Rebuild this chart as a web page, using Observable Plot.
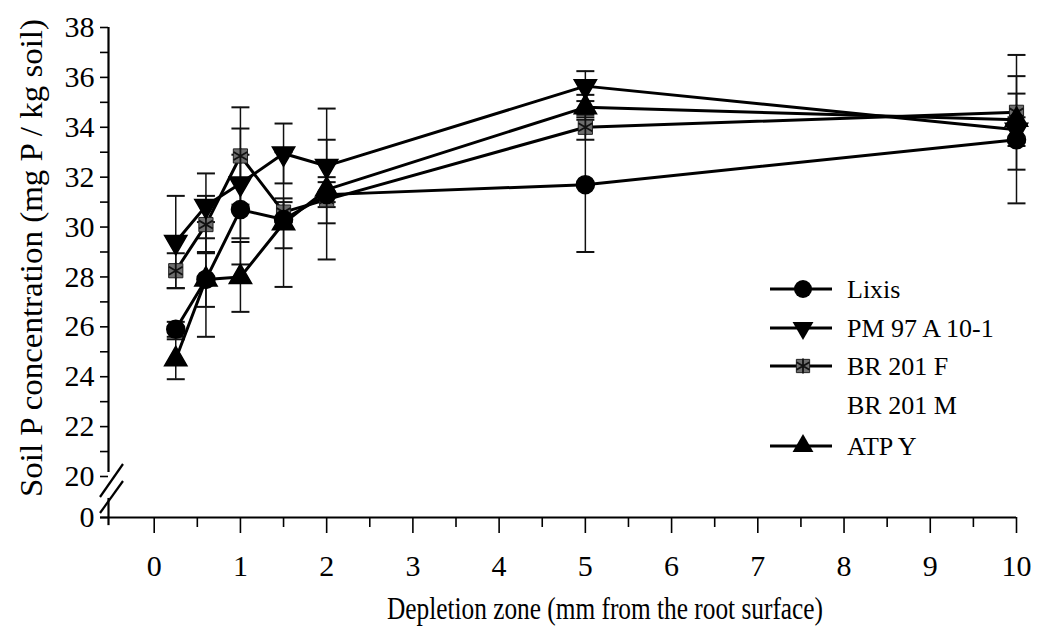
<!DOCTYPE html>
<html><head><meta charset="utf-8">
<script src="https://cdn.jsdelivr.net/npm/d3@7"></script>
<script src="https://cdn.jsdelivr.net/npm/@observablehq/plot@0.6"></script>
<style>body{margin:0;background:#fff} #chart{width:1045px;height:628px}</style>
</head><body><div id="chart"></div>
<script>
// ---- data ----
const depth = [0.25, 0.6, 1, 1.5, 2, 5, 10];
const seriesNames = ["Lixis", "PM 97 A 10-1", "BR 201 F", "BR 201 M", "ATP Y"];
const lixis     = [25.9, 27.9, 30.7, 30.3, 31.3, 31.7, 33.5];
const lixisErr  = [0.3, 2.3, 2.2, 2.7, 0.5, 2.7, 2.55];
const pm97      = [29.4, 30.85, 31.75, 32.95, 32.45, 35.65, 33.9];
const pm97Err   = [1.85, 1.3, 2.2, 1.2, 2.3, 0.6, 0.5];
const br201f    = [28.25, 30.1, 32.85, 30.6, 31.1, 34.0, 34.6];
const br201fErr = [0.7, 1.15, 1.95, 0.4, 2.4, 0.5, 2.3];
const atpy      = [24.7, 27.9, 28.0, 30.15, 31.5, 34.8, 34.3];
const atpyErr   = [0.8, 1.1, 1.4, 1.0, 0.5, 0.5, 1.05];
const xTickValues = [0, 1, 2, 3, 4, 5, 6, 7, 8, 9, 10];
const xMinorTicks = [0.5, 1.5, 2.5, 3.5, 4.5, 5.5, 6.5, 7.5, 8.5, 9.5];
const yTickValues = [20, 22, 24, 26, 28, 30, 32, 34, 36, 38];
const yMinorTicks = [21, 23, 25, 27, 29, 31, 33, 35, 37];
const yZeroLabel = "0";

// ---- scale constants (axis break: the 0 tick sits just below 20) ----
const Y_ZERO = 18.356;
const X_MIN = -0.53;

const seriesDefs = [
  {name: seriesNames[0], v: lixis, e: lixisErr},
  {name: seriesNames[1], v: pm97, e: pm97Err},
  {name: seriesNames[2], v: br201f, e: br201fErr},
  {name: seriesNames[4], v: atpy, e: atpyErr}
];
const rows = [];
seriesDefs.forEach(s => depth.forEach((x, i) => rows.push({
  series: s.name, x, y: s.v[i], lo: s.v[i] - s.e[i], hi: s.v[i] + s.e[i]
})));
const of = name => rows.filter(r => r.series === name);

const cap = {draw(ctx) { ctx.moveTo(-9, 0); ctx.lineTo(9, 0); }};
const FONT = "'Liberation Serif', 'Times New Roman', serif";

const plot = Plot.plot({
  width: 1045, height: 628,
  marginLeft: 108, marginRight: 29, marginTop: 27, marginBottom: 111,
  style: {fontFamily: FONT, background: "#fff", color: "#000"},
  x: {domain: [X_MIN, 10], label: null},
  y: {domain: [Y_ZERO, 38], label: null},
  marks: [
    // axes
    Plot.axisX({ticks: xTickValues, tickSize: 16, tickPadding: 21, fontSize: 30, tickFormat: d => String(d), label: null, strokeWidth: 1.6}),
    Plot.axisX({ticks: xMinorTicks, tickSize: 10, text: null, label: null, strokeWidth: 1.6}),
    Plot.axisY({ticks: [Y_ZERO, ...yTickValues], tickSize: 8, tickPadding: 6, fontSize: 30,
      tickFormat: d => d === Y_ZERO ? yZeroLabel : String(d), label: null, strokeWidth: 1.6}),
    Plot.axisY({ticks: yMinorTicks, tickSize: 8, text: null, label: null, strokeWidth: 1.6}),
    Plot.ruleY([Y_ZERO], {x1: X_MIN - 0.093, x2: 10, stroke: "#000", strokeWidth: 2.2}),
    Plot.ruleX([X_MIN], {y1: 20.16, y2: 38, stroke: "#000", strokeWidth: 2.2}),
    Plot.ruleX([X_MIN], {y1: 18.03, y2: 19.12, stroke: "#000", strokeWidth: 2.2}),
    // error bars
    Plot.ruleX(rows, {x: "x", y1: "lo", y2: "hi", stroke: "#111", strokeWidth: 1.5}),
    Plot.dot(rows, {x: "x", y: "lo", symbol: cap, stroke: "#111", strokeWidth: 2, fill: "none"}),
    Plot.dot(rows, {x: "x", y: "hi", symbol: cap, stroke: "#111", strokeWidth: 2, fill: "none"}),
    // lines
    Plot.line(rows, {x: "x", y: "y", z: "series", stroke: "#000", strokeWidth: 3}),
    // markers
    Plot.dot(of(seriesNames[2]), {x: "x", y: "y", symbol: "square", r: 8, fill: "#6e6e6e", stroke: "#222", strokeWidth: 1}),
    Plot.dot(of(seriesNames[2]), {x: "x", y: "y", symbol: "asterisk", r: 7.5, stroke: "#111", strokeWidth: 1.8}),
    Plot.dot(of(seriesNames[1]), {x: "x", y: "y", symbol: "triangle", rotate: 180, r: 8.3, fill: "#000", stroke: "#000"}),
    Plot.dot(of(seriesNames[4]), {x: "x", y: "y", symbol: "triangle", r: 8.3, fill: "#000", stroke: "#000"}),
    Plot.dot(of(seriesNames[0]), {x: "x", y: "y", symbol: "circle", r: 9, fill: "#000", stroke: "#000"})
  ]
});
document.getElementById("chart").appendChild(plot);

// ---- decorations: axis break, titles, legend ----
const svg = d3.select(plot);
const brk = svg.append("g").attr("stroke", "#000").attr("stroke-width", 2.2);
brk.append("line").attr("x1", 100).attr("y1", 497).attr("x2", 123).attr("y2", 464);
brk.append("line").attr("x1", 100).attr("y1", 513).attr("x2", 123).attr("y2", 481);

svg.append("text").text("Depletion zone (mm from the root surface)")
  .attr("x", 605).attr("y", 619).attr("text-anchor", "middle")
  .attr("font-family", FONT).attr("font-size", 31)
  .attr("textLength", 436).attr("lengthAdjust", "spacingAndGlyphs");
svg.append("text").text("Soil P concentration (mg P / kg soil)")
  .attr("transform", "translate(42,258) rotate(-90)").attr("text-anchor", "middle")
  .attr("font-family", FONT).attr("font-size", 31)
  .attr("textLength", 478).attr("lengthAdjust", "spacingAndGlyphs");

// legend
const legendRows = [
  {name: seriesNames[0], sym: "circle"},
  {name: seriesNames[1], sym: "tridown"},
  {name: seriesNames[2], sym: "square"},
  {name: seriesNames[3], sym: null},
  {name: seriesNames[4], sym: "triangle"}
];
const ly = [289, 328, 366, 405, 446];
const lg = svg.append("g");
legendRows.forEach((d, i) => {
  const g = lg.append("g").attr("transform", `translate(0,${ly[i]})`);
  if (d.sym) {
    g.append("line").attr("x1", 770).attr("x2", 832).attr("y1", 0).attr("y2", 0).attr("stroke", "#000").attr("stroke-width", 3);
    if (d.sym === "circle") g.append("path").attr("d", d3.symbol(d3.symbolCircle, Math.PI * 81)()).attr("transform", "translate(803,0)").attr("fill", "#000");
    if (d.sym === "triangle") g.append("path").attr("d", d3.symbol(d3.symbolTriangle, Math.PI * 60)()).attr("transform", "translate(803,0)").attr("fill", "#000");
    if (d.sym === "tridown") g.append("path").attr("d", d3.symbol(d3.symbolTriangle, Math.PI * 60)()).attr("transform", "translate(803,0) rotate(180)").attr("fill", "#000");
    if (d.sym === "square") {
      g.append("path").attr("d", d3.symbol(d3.symbolSquare, Math.PI * 56)()).attr("transform", "translate(803,0)").attr("fill", "#6e6e6e").attr("stroke", "#222");
      g.append("path").attr("d", d3.symbol(d3.symbolAsterisk, Math.PI * 50)()).attr("transform", "translate(803,0)").attr("fill", "none").attr("stroke", "#111").attr("stroke-width", 1.8);
    }
  }
  g.append("text").text(d.name).attr("x", 847).attr("y", 0).attr("dy", "0.35em")
    .attr("text-anchor", "start")
    .attr("font-family", FONT).attr("font-size", 26);
});
</script>
</body></html>
